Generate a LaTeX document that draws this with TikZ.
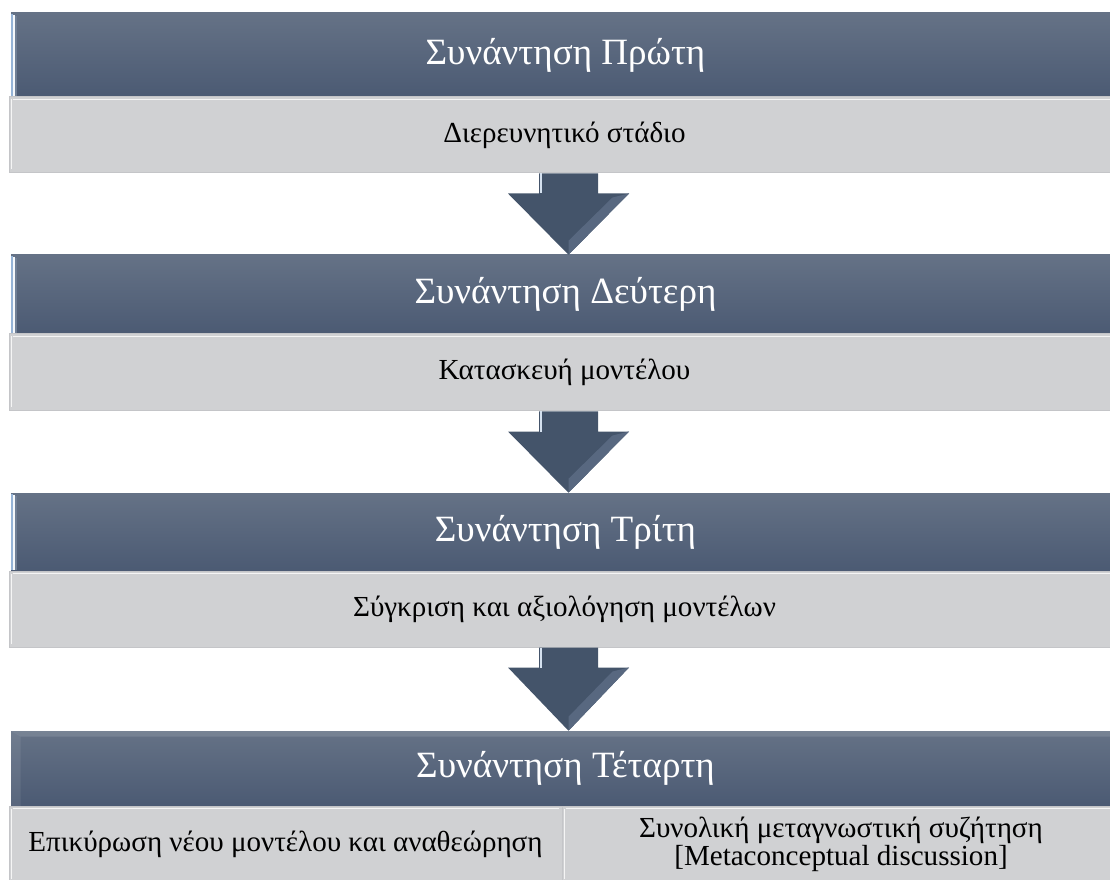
\documentclass[tikz,border=0pt]{standalone}
\usepackage{fontspec}
\setmainfont{Liberation Serif}
\usetikzlibrary{calc}
\definecolor{hdtop}{RGB}{101,114,134}
\definecolor{hdbot}{RGB}{75,90,115}
\definecolor{graybox}{RGB}{208,209,211}
\definecolor{grayedge}{RGB}{196,197,200}
\definecolor{arrowc}{RGB}{68,84,106}
\definecolor{arrowlight}{RGB}{88,104,128}
\definecolor{edgeblue}{RGB}{150,180,215}
\tikzset{
  x=0.75pt, y=-0.75pt,
  hdr/.style={rectangle, inner sep=0pt, top color=hdtop, bottom color=hdbot,
    text=white, font=\fontsize{27.8}{32}\selectfont, minimum width=1109*0.75pt},
  sub/.style={rectangle, inner sep=0pt, fill=graybox, draw=grayedge, line width=0.75pt,
    text=black, font=\fontsize{21.8}{19.5}\selectfont, align=center},
  arrowbody/.style={fill=arrowc},
  arrowbevel/.style={fill=arrowlight},
  shine/.style={draw=edgeblue!40!white, line width=1.5pt},
  glint/.style={draw=white!92!gray, line width=1.2pt},
}
\begin{document}
\begin{tikzpicture}
\useasboundingbox (0,0) rectangle (1110,880);
\begin{scope}
\clip (0,0) rectangle (1110,880);
% headers
\node[hdr, minimum height=84*0.75pt] (h1) at (565.5,55) {Συνάντηση Πρώτη};
\node[hdr, minimum height=79*0.75pt] (h2) at (565.5,294.5) {Συνάντηση Δεύτερη};
\node[hdr, minimum height=78*0.75pt] (h3) at (565.5,532) {Συνάντηση Τρίτη};
\node[hdr, minimum height=75*0.75pt] (h4) at (565.5,768.5) {Συνάντηση Τέταρτη};
% sub boxes
\node[sub, minimum width=1111*0.75pt, minimum height=76*0.75pt] (g1) at (564.5,135) {Διερευνητικό στάδιο};
\node[sub, minimum width=1111*0.75pt, minimum height=77*0.75pt] (g2) at (564.5,372.5) {Κατασκευή μοντέλου};
\node[sub, minimum width=1111*0.75pt, minimum height=76*0.75pt] (g3) at (564.5,609) {Σύγκριση και αξιολόγηση μοντέλων};
\node[sub, minimum width=553*0.75pt, minimum height=76*0.75pt] (g4a) at (285.5,844) {Επικύρωση νέου μοντέλου και αναθεώρηση};
\node[sub, minimum width=558*0.75pt, minimum height=76*0.75pt] (g4b) at (841,844)
  {Συνολική μεταγνωστική συζήτηση\\{}[Metaconceptual discussion]};
% header bevels
\foreach \h in {h1,h2,h3}{
  \fill[edgeblue] ($(\h.north west)+(0,1)$) rectangle ($(\h.south west)+(2,-1)$);
  \fill[white!90!edgeblue] ($(\h.north west)+(2,2)$) rectangle ($(\h.south west)+(4,-1)$);
  \fill[hdtop!80!edgeblue] ($(\h.north west)+(4,3)$) rectangle ($(\h.south west)+(6,-1)$);
}
\fill[white, opacity=0.12] (h4.north west) -- (h4.north east) -- ($(h4.north east)+(-10,6)$) -- ($(h4.north west)+(10,6)$) -- cycle;
\fill[white, opacity=0.08] (h4.north west) -- ($(h4.north west)+(10,6)$) -- ($(h4.south west)+(10,0)$) -- (h4.south west) -- cycle;
% sub box glints
\foreach \g in {g1,g2,g3,g4a,g4b}{
  \draw[glint] ($(\g.north west)+(4,3)$) -- ($(\g.north east)+(-4,3)$);
  \draw[glint] ($(\g.north west)+(3,3)$) -- ($(\g.south west)+(3,-4)$);
}
\end{scope}
% arrows
\coordinate (ax) at (568.5,0);
\foreach \g/\h in {g1/h2,g2/h3,g3/h4}{
  \fill[arrowbody] ($(ax|-\g.south)+(-29.5,0)$) -- ++(59,0) -- ++(0,20) -- ++(31,0)
     -- (ax|-\h.north) -- ($(ax|-\g.south)+(-60.5,20)$) -- ++(31,0) -- cycle;
  \fill[arrowbevel] ($(ax|-\g.south)+(60.5,20)$) -- (ax|-\h.north)
     -- ($(ax|-\h.north)+(0,-14)$) -- ($(ax|-\g.south)+(44,24)$) -- cycle;
  \draw[shine] ($(ax|-\g.south)+(-27.5,0)$) -- ++(0,20);
}
\end{tikzpicture}
\end{document}
